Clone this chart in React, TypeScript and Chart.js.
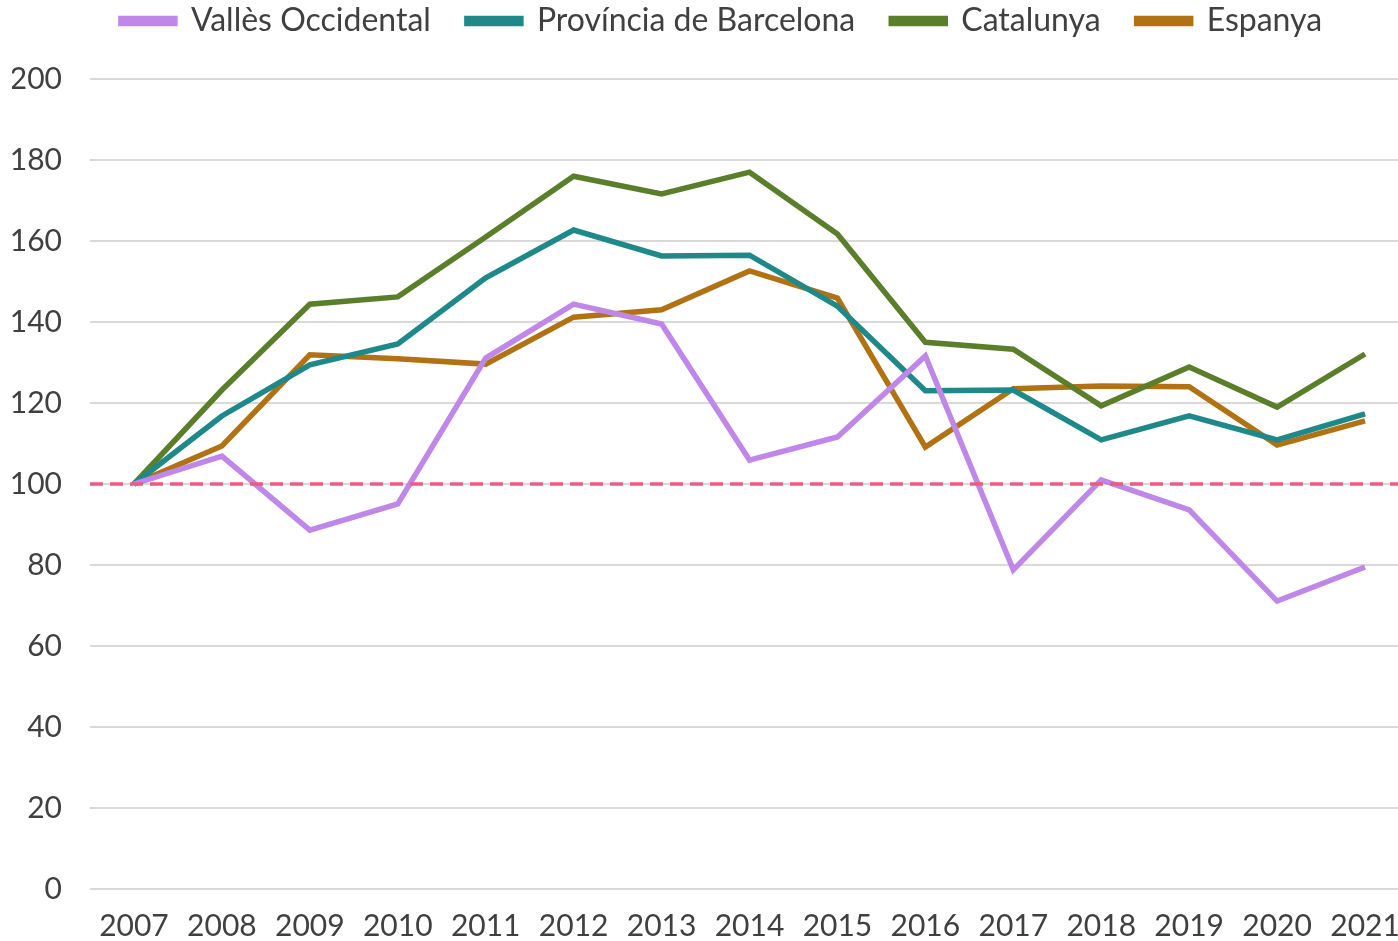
import React, { useEffect, useRef } from "react";
import { Chart, registerables } from "chart.js";

Chart.register(...registerables);

const years = ["2007","2008","2009","2010","2011","2012","2013","2014","2015","2016","2017","2018","2019","2020","2021"];
const valles = [100, 106.9, 88.6, 95.1, 131.1, 144.4, 139.5, 105.9, 111.6, 131.6, 78.8, 101, 93.6, 71.1, 79.5];
const provincia = [100, 116.8, 129.4, 134.6, 150.9, 162.7, 156.3, 156.5, 143.9, 123, 123.2, 110.9, 116.8, 110.9, 117.3];
const catalunya = [100, 123.2, 144.4, 146.2, 161, 176, 171.6, 177, 161.7, 135, 133.3, 119.3, 128.9, 119, 132.1];
const espanya = [100, 109.4, 131.9, 130.9, 129.6, 141.2, 143, 152.6, 145.9, 109.1, 123.5, 124.2, 124, 109.6, 115.6];
const referenceValue = 100;

const refLinePlugin = {
  id: "refLine",
  afterLayout(chart: any) {
    if (chart.legend) {
      chart.legend.left += 11;
      chart.legend.right += 11;
    }
  },
  afterDatasetsDraw(chart: any) {
    const { ctx, chartArea, scales } = chart;
    const y = scales.y.getPixelForValue(referenceValue);
    ctx.save();
    ctx.strokeStyle = "#EE5A80";
    ctx.lineWidth = 3.5;
    ctx.setLineDash([13, 7]);
    ctx.beginPath();
    ctx.moveTo(chartArea.left, y);
    ctx.lineTo(chartArea.right, y);
    ctx.stroke();
    ctx.restore();
  },
};

export default function App() {
  const ref = useRef<HTMLCanvasElement>(null);
  useEffect(() => {
    if (!ref.current) return;
    const mk = (label: string, data: number[], color: string) => ({
      label,
      data,
      borderColor: color,
      backgroundColor: color,
      borderWidth: 5.5,
      pointRadius: 0,
      tension: 0,
      fill: false,
    });
    const chart = new Chart(ref.current, {
      type: "line",
      data: {
        labels: years,
        datasets: [
          mk("Vallès Occidental", valles, "#BF87E8"),
          mk("Província de Barcelona", provincia, "#1F8888"),
          mk("Catalunya", catalunya, "#5B7E2A"),
          mk("Espanya", espanya, "#B07212"),
        ],
      },
      options: {
        animation: false,
        responsive: false,
        maintainAspectRatio: false,
        layout: { padding: { top: -31, left: 12, right: 1, bottom: 0 } },
        plugins: {
          legend: {
            position: "top",
            labels: {
              font: { family: "Lato", size: 32 },
              color: "#404040",
              boxWidth: 54,
              boxHeight: 5,
              padding: 36,
            },
          },
          title: {
            display: true,
            text: "",
            position: "top",
            weight: 500,
            font: { size: 10 },
            padding: { top: 0, bottom: 20 },
          },
          tooltip: { enabled: false },
        },
        scales: {
          x: {
            offset: true,
            grid: { display: false, drawTicks: false },
            border: { display: false },
            ticks: {
              font: { family: "Lato", size: 30 },
              color: "#404040",
              padding: 19,
              maxRotation: 0,
              autoSkip: false,
            },
            afterFit: (s: any) => {
              s.paddingLeft = 0;
              s.paddingRight = 0;
              s.height = 52;
            },
          },
          y: {
            min: 0,
            max: 200,
            grid: { color: "#D9D9D9", lineWidth: 2, drawTicks: false },
            border: { display: false },
            ticks: {
              stepSize: 20,
              font: { family: "Lato", size: 30 },
              color: "#404040",
              padding: 28,
            },
            afterFit: (s: any) => {
              s.width = 78;
            },
          },
        },
      },
      plugins: [refLinePlugin],
    });
    return () => chart.destroy();
  }, []);
  return (
    <div style={{ position: "fixed", left: 0, top: 0, width: 1398, height: 941, overflow: "hidden", background: "#fff" }}>
      <canvas ref={ref} width={1410} height={941} style={{ display: "block" }} />
    </div>
  );
}
